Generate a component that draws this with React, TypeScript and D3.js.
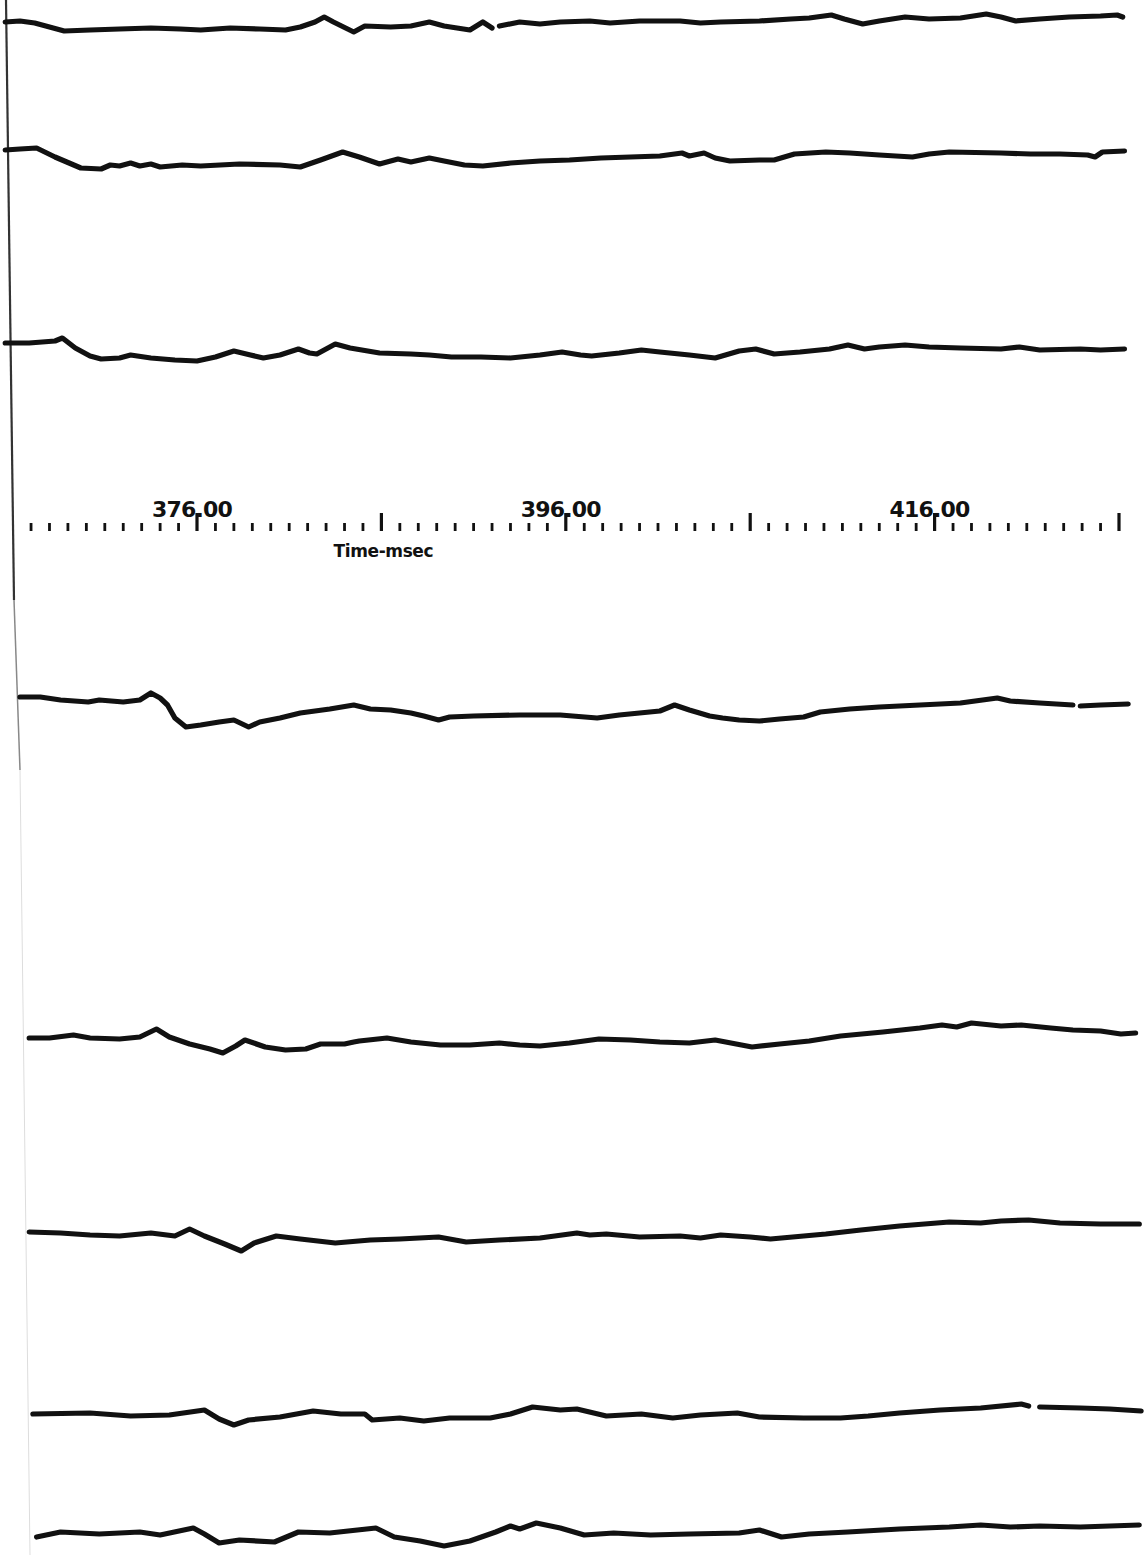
import React from "react";
import * as d3 from "d3";

// Time axis (msec)
const tickStart = 367;
const tickEnd = 426;
const majorTicks = [376, 386, 396, 406, 416, 426];
const labeledTicks = [376, 396, 416];
const axisTitle = "Time-msec";

// Traces: time (msec) and deflection (arbitrary units, + = up); null = gap in the record
const t1 = [365.6,366.4,367.2,368.0,368.8,370.2,371.8,373.5,375.1,376.2,377.8,379.4,380.8,381.6,382.4,382.9,383.4,384.5,385.1,386.5,387.6,388.6,389.4,390.8,391.5,392.0,392.2,392.4,393.5,394.6,395.7,397.3,398.4,400.0,402.2,403.3,404.4,406.5,408.2,409.2,410.4,411.1,412.1,413.0,414.4,415.7,417.4,418.8,419.6,420.4,421.7,423.3,425.0,425.9,426.2];
const a1 = [3,4,2,-2,-6,-5,-4,-3,-4,-5,-3,-4,-5,-2,3,8,3,-7,-1,-2,-1,3,-1,-5,3,-3,null,-1,3,1,3,4,2,4,4,2,3,4,6,7,10,6,1,4,8,6,7,11,8,4,6,8,9,10,8];

const t2 = [365.6,366.4,367.3,368.3,369.7,370.8,371.3,371.8,372.4,372.9,373.5,374.0,375.2,376.2,378.3,380.5,381.6,382.7,383.9,384.8,385.9,386.9,387.6,388.6,389.4,390.5,391.5,393.0,394.6,396.2,397.9,399.5,401.1,402.3,402.7,403.5,404.1,404.9,406.5,407.3,408.4,410.1,411.4,413.0,414.8,415.7,416.8,419.6,421.2,422.8,424.3,424.7,425.1,426.3];
const a2 = [10,11,12,3,-8,-9,-5,-6,-3,-6,-4,-7,-5,-6,-4,-5,-7,0,8,3,-4,1,-2,2,-1,-5,-6,-3,-1,0,2,3,4,7,4,7,2,-1,0,0,6,8,7,5,3,6,8,7,6,6,5,3,8,9];

const t3 = [365.6,366.9,368.3,368.7,369.4,370.2,370.8,371.8,372.4,373.5,374.8,376.0,377.0,378.0,378.9,379.6,380.5,381.5,382.1,382.5,383.5,384.3,385.9,387.6,388.6,389.8,391.4,393.0,394.6,395.8,396.8,397.4,398.9,400.1,401.1,402.7,404.1,405.4,406.3,407.3,408.7,410.3,411.3,412.2,413.0,414.4,415.7,417.4,419.6,420.6,421.7,423.9,425.0,426.3];
const a3 = [7,7,9,12,2,-6,-9,-8,-5,-8,-10,-11,-7,-1,-5,-8,-5,1,-3,-4,6,2,-3,-4,-5,-7,-7,-8,-5,-2,-5,-6,-3,0,-2,-5,-8,-1,1,-4,-2,1,5,1,3,5,3,2,1,3,0,1,0,1];

const t4 = [366.4,367.5,368.6,370.1,370.7,372.0,372.9,373.5,374.0,374.4,374.8,375.4,376.2,377.2,378.0,378.8,379.4,380.5,381.6,383.2,384.5,385.4,386.5,387.6,388.3,389.1,389.7,391.0,393.5,395.7,397.7,398.9,400.0,401.1,401.9,402.7,403.8,404.5,405.4,406.5,407.6,408.9,409.8,411.4,413.0,415.2,417.4,419.4,420.1,421.7,423.5,423.7,423.9,425.0,426.5];
const a4 = [8,8,5,3,5,3,5,12,7,0,-13,-22,-20,-17,-15,-22,-17,-13,-8,-4,0,-4,-5,-8,-11,-15,-12,-11,-10,-10,-13,-10,-8,-6,0,-5,-11,-13,-15,-16,-14,-12,-7,-4,-2,0,2,7,4,2,0,null,-1,0,1];

const t5 = [366.9,368.0,369.3,370.2,371.8,372.9,373.8,374.5,375.6,376.7,377.4,378.1,378.6,379.7,380.8,381.9,382.7,384.0,384.5,384.8,386.3,387.6,389.2,390.8,392.4,393.5,394.6,396.2,397.8,399.5,401.1,402.7,404.1,406.1,407.6,409.2,410.9,413.2,415.2,416.4,417.2,418.0,419.6,420.7,422.3,423.5,425.0,426.1,426.9];
const a5 = [2,2,5,2,1,3,11,3,-4,-9,-13,-6,0,-7,-10,-9,-4,-4,-2,-1,2,-2,-5,-5,-3,-5,-6,-3,1,0,-2,-3,0,-7,-4,-1,4,8,12,15,13,17,14,15,12,10,9,6,7];

const t6 = [366.9,368.6,370.2,371.8,373.5,374.8,375.6,376.4,377.5,378.4,379.1,380.3,381.6,383.5,385.4,387.0,389.1,390.6,392.4,394.6,396.6,397.3,398.2,400.0,402.2,403.3,404.4,406.0,407.1,408.9,410.1,412.0,414.1,416.8,418.5,419.6,421.1,422.8,425.0,427.1];
const a6 = [3,2,0,-1,2,-1,6,-1,-9,-16,-8,-1,-4,-8,-5,-4,-2,-7,-5,-3,2,0,1,-2,-1,-3,0,-2,-4,-1,1,5,9,13,12,14,15,12,11,11];

const t7 = [367.1,370.2,372.4,374.5,376.4,377.2,378.0,378.8,380.5,382.3,383.8,385.1,385.5,387.0,388.3,389.7,391.9,393.0,394.2,395.7,396.6,398.2,400.1,401.8,403.3,405.3,406.5,408.9,410.9,412.4,414.1,416.3,418.5,420.7,421.1,421.4,421.7,423.9,425.5,427.2];
const a7 = [1,2,-1,0,5,-4,-10,-5,-2,4,1,1,-5,-3,-6,-3,-3,1,8,5,6,-1,1,-3,0,2,-2,-3,-3,-1,2,5,7,11,9,null,8,7,6,4];

const t8 = [367.3,368.6,370.7,372.9,374.0,375.8,376.4,377.2,378.3,380.2,381.5,383.2,385.7,386.7,388.1,389.4,390.8,392.2,393.0,393.5,394.4,395.7,397.0,398.6,400.6,402.7,405.4,406.5,407.7,409.2,411.3,414.1,416.8,418.5,420.1,421.7,423.9,425.5,427.1];
const a8 = [-5,0,-2,0,-3,4,-2,-11,-8,-10,0,-1,4,-5,-9,-14,-9,0,6,3,9,4,-3,-1,-3,-2,-1,2,-5,-2,0,3,5,7,5,6,5,6,7];

const traceTimes = [t1, t2, t3, t4, t5, t6, t7, t8];
const traceAmps = [a1, a2, a3, a4, a5, a6, a7, a8];

// layout
const W = 1144;
const H = 1555;
const baselines = [25, 160, 350, 705, 1040, 1235, 1415, 1532];
const axisY = 531;

export default function App() {
  const x = d3.scaleLinear().domain([366, 426]).range([12.6, 1119]);
  const minor = d3.range(tickStart, tickEnd + 1);

  const paths = traceTimes.map((ts, i) => {
    const y = d3
      .scaleLinear()
      .domain([-30, 30])
      .range([baselines[i] + 30, baselines[i] - 30]);
    const pts = ts.map((t, j) => [t, traceAmps[i][j]] as [number, number | null]);
    const line = d3
      .line<[number, number | null]>()
      .defined((d) => d[1] !== null)
      .x((d) => x(d[0]))
      .y((d) => y(d[1] as number))
      .curve(d3.curveLinear);
    return line(pts) || "";
  });

  return (
    <svg
      width={W}
      height={H}
      viewBox={`0 0 ${W} ${H}`}
      style={{ position: "absolute", left: 0, top: 0, display: "block", background: "#fff" }}
    >
      <rect x={0} y={0} width={W} height={H} fill="#fff" />
      {/* left margin line of the record */}
      <line x1={6} y1={0} x2={14} y2={600} stroke="#333" strokeWidth={2.2} />
      <line x1={14} y1={600} x2={20} y2={770} stroke="#888" strokeWidth={1.5} />
      <line x1={20} y1={770} x2={30} y2={1555} stroke="#ddd" strokeWidth={1} />

      {paths.map((d, i) => (
        <path
          key={i}
          d={d}
          fill="none"
          stroke="#111"
          strokeWidth={5.2}
          strokeLinejoin="round"
          strokeLinecap="round"
        />
      ))}

      {/* time axis */}
      <g>
        {minor.map((t) => {
          const major = majorTicks.includes(t);
          return (
            <line
              key={t}
              x1={x(t)}
              x2={x(t)}
              y1={major ? axisY - 18 : axisY - 8}
              y2={axisY}
              stroke="#111"
              strokeWidth={major ? 3.2 : 2.8}
            />
          );
        })}
        {labeledTicks.map((t) => (
          <text
            key={t}
            x={x(t) - 5}
            y={517}
            textAnchor="middle"
            fontFamily="'DejaVu Sans', sans-serif"
            fontWeight="bold"
            fontSize={22}
            letterSpacing={-0.8}
            fill="#111"
          >
            {t.toFixed(2)}
          </text>
        ))}
        <text
          x={x(386) + 2}
          y={557}
          textAnchor="middle"
          fontFamily="'DejaVu Sans', sans-serif"
          fontWeight="bold"
          fontSize={17}
          letterSpacing={-0.4}
          fill="#111"
        >
          {axisTitle}
        </text>
      </g>
    </svg>
  );
}
